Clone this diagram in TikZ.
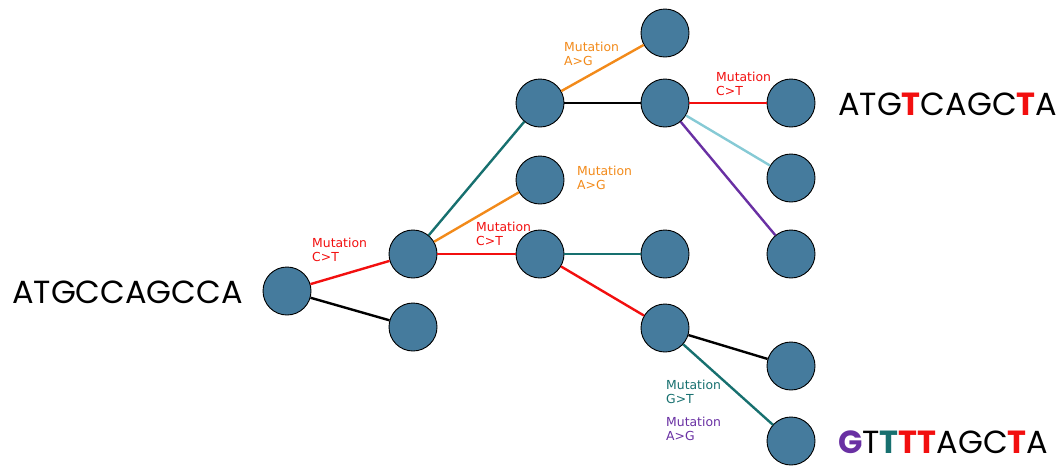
\documentclass[tikz,border=0pt]{standalone}
\usepackage{fontspec}
\setmainfont{DejaVu Sans}
\newfontfamily\seqfont{Poppins}
\definecolor{nodefill}{HTML}{457B9D}
\definecolor{mred}{HTML}{F20F0F}
\definecolor{morange}{HTML}{F28A1A}
\definecolor{mteal}{HTML}{17706F}
\definecolor{mlight}{HTML}{86CAD5}
\definecolor{mpurple}{HTML}{6930A3}
\begin{document}
\begin{tikzpicture}[x=1pt,y=-1pt,
  tnode/.style={circle,draw=black,line width=0.9pt,fill=nodefill,minimum size=48pt,inner sep=0pt},
  edge/.style={line width=2.4pt},
  mlab/.style={anchor=north west,align=left,inner sep=0pt,font=\fontsize{12.4}{14}\selectfont},
  seq/.style={inner sep=0pt,font=\seqfont\fontsize{32}{32}\selectfont}]
\useasboundingbox (0,0) rectangle (1059,467);
\node[tnode] (R) at (287,291) {};
\node[tnode] (A) at (413,254) {};
\node[tnode] (B) at (413,327) {};
\node[tnode] (C) at (540,103) {};
\node[tnode] (D) at (540,180) {};
\node[tnode] (E) at (540,254) {};
\node[tnode] (F) at (665,33) {};
\node[tnode] (G) at (665,103) {};
\node[tnode] (H) at (665,254) {};
\node[tnode] (I) at (665,328) {};
\node[tnode] (J) at (791,103) {};
\node[tnode] (K) at (791,178) {};
\node[tnode] (L) at (791,254) {};
\node[tnode] (M) at (791,366) {};
\node[tnode] (N) at (791,441) {};
\draw[edge,mred] (R) -- (A);
\draw[edge,black] (R) -- (B);
\draw[edge,mteal] (A) -- (C);
\draw[edge,morange] (A) -- (D);
\draw[edge,mred] (A) -- (E);
\draw[edge,morange] (C) -- (F);
\draw[edge,black] (C) -- (G);
\draw[edge,mred] (G) -- (J);
\draw[edge,mlight] (G) -- (K);
\draw[edge,mpurple] (G) -- (L);
\draw[edge,mteal] (E) -- (H);
\draw[edge,mred] (E) -- (I);
\draw[edge,black] (I) -- (M);
\draw[edge,mteal] (I) -- (N);
\node[mlab,text=mred] (l1) at (312,238) {Mutation\\C>T};
\node[mlab,text=mred] (l2) at (476,222) {Mutation\\C>T};
\node[mlab,text=morange] (l3) at (577,166) {Mutation\\A>G};
\node[mlab,text=morange] (l4) at (564,42) {Mutation\\A>G};
\node[mlab,text=mred] (l5) at (716,72) {Mutation\\C>T};
\node[mlab,text=mteal] (l6) at (666,380) {Mutation\\G>T};
\node[mlab,text=mpurple] (l7) at (666,417) {Mutation\\A>G};
\node[seq,anchor=west] (s0) at (12,292) {ATGCCAGCCA};
\node[seq,anchor=west] (s1) at (838,104) {ATG{\color{mred}\bfseries T}CAGC{\color{mred}\bfseries T}A};
\node[seq,anchor=west] (s2) at (838,442) {{\color{mpurple}\bfseries G}T{\color{mteal}\bfseries T}{\color{mred}\bfseries TT}AGC{\color{mred}\bfseries T}A};
\end{tikzpicture}
\end{document}
